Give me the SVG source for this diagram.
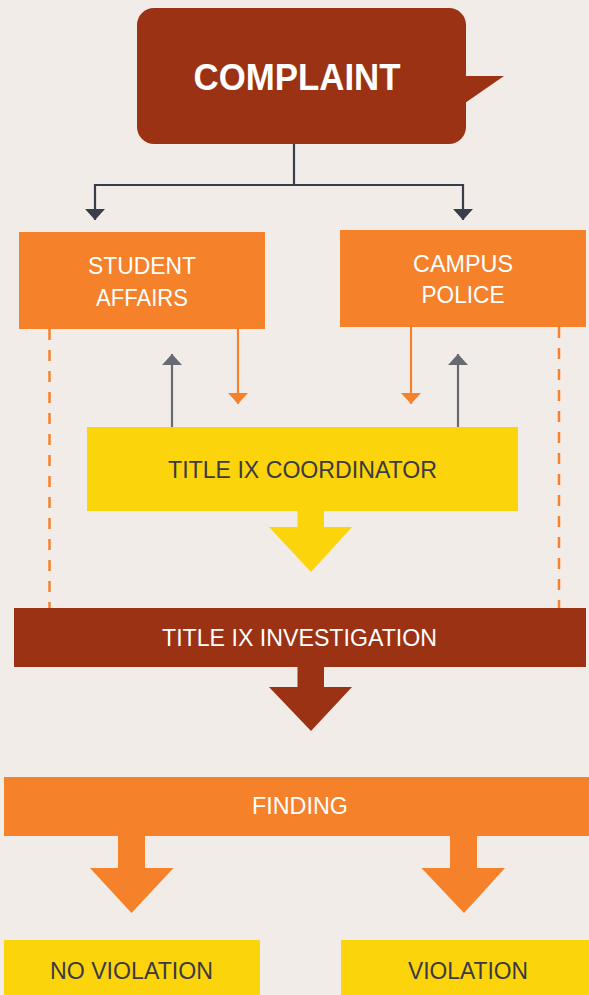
<svg xmlns="http://www.w3.org/2000/svg" width="589" height="995" viewBox="0 0 589 995">
<defs>
<style>
.t{font-family:"Liberation Sans",Arial,sans-serif;font-size:24px;text-anchor:middle}
.w{fill:#ffffff}
.d{fill:#3a3a44}
.dash{stroke:#f5812a;stroke-width:2.5;stroke-dasharray:11 10;fill:none}
.dk{stroke:#3a3d4a;stroke-width:2.2;fill:none}
.gr{stroke:#686a72;stroke-width:2.2;fill:none}
.or{stroke:#f5812a;stroke-width:2.2;fill:none}
</style>
<marker id="mDark" viewBox="0 0 11 20" refX="11" refY="10" markerWidth="11" markerHeight="20" markerUnits="userSpaceOnUse" orient="auto">
<path d="M0,0 L11,10 L0,20 Z" fill="#3a3d4a"/>
</marker>
<marker id="mGrey" viewBox="0 0 11 20" refX="11" refY="10" markerWidth="11" markerHeight="20" markerUnits="userSpaceOnUse" orient="auto">
<path d="M0,0 L11,10 L0,20 Z" fill="#686a72"/>
</marker>
<marker id="mOr" viewBox="0 0 11 20" refX="11" refY="10" markerWidth="11" markerHeight="20" markerUnits="userSpaceOnUse" orient="auto">
<path d="M0,0 L11,10 L0,20 Z" fill="#f5812a"/>
</marker>
</defs>
<rect x="0" y="0" width="589" height="995" fill="#f2ece9"/>

<g id="connectors">
<path class="dk" d="M294,144 V185 M94,185 H464"/>
<path class="dk" d="M95,184 V220" marker-end="url(#mDark)"/>
<path class="dk" d="M463,184 V220" marker-end="url(#mDark)"/>
<path class="dash" d="M49.5,329 V608"/>
<path class="dash" d="M559,327 V608"/>
<path class="or" d="M238,329 V404" marker-end="url(#mOr)"/>
<path class="or" d="M411,327 V404" marker-end="url(#mOr)"/>
<path class="gr" d="M172,427 V354" marker-end="url(#mGrey)"/>
<path class="gr" d="M458,427 V354" marker-end="url(#mGrey)"/>
<path d="M297.5,510 H324 V527 H352 L311,572 L269,527 H297.5 Z" fill="#fcd40c"/>
<path d="M297.5,666 H324 V687 H352 L311,731 L269,687 H297.5 Z" fill="#9b3214"/>
<path d="M118,835 H145 V868 H173.5 L131.5,913 L90,868 H118 Z" fill="#f5812a"/>
<path d="M450,835 H477 V868 H505 L464,913 L421.5,868 H450 Z" fill="#f5812a"/>
</g>

<g id="complaint">
<rect x="137" y="8" width="329" height="136" rx="17" fill="#9b3214"/>
<path d="M465,76 L504,76 L465,103 Z" fill="#9b3214"/>
<text x="297" y="90" class="w" style="font-family:'Liberation Sans',Arial,sans-serif;font-size:37px;font-weight:bold;text-anchor:middle" textLength="207" lengthAdjust="spacingAndGlyphs">COMPLAINT</text>
</g>

<g id="student-affairs">
<rect x="19" y="232" width="246" height="97" fill="#f5812a"/>
<text x="142" y="274" class="t w" textLength="108" lengthAdjust="spacingAndGlyphs">STUDENT</text>
<text x="142" y="306" class="t w" textLength="92" lengthAdjust="spacingAndGlyphs">AFFAIRS</text>
</g>

<g id="campus-police">
<rect x="340" y="230" width="246" height="97" fill="#f5812a"/>
<text x="463" y="272" class="t w" textLength="100" lengthAdjust="spacingAndGlyphs">CAMPUS</text>
<text x="463" y="303" class="t w" textLength="83" lengthAdjust="spacingAndGlyphs">POLICE</text>
</g>

<g id="coordinator">
<rect x="87" y="427" width="431" height="84" fill="#fcd40c"/>
<text x="302.5" y="478" class="t d" textLength="269" lengthAdjust="spacingAndGlyphs">TITLE IX COORDINATOR</text>
</g>

<g id="investigation">
<rect x="14" y="608" width="572" height="59" fill="#9b3214"/>
<text x="299.5" y="646" class="t w" textLength="275" lengthAdjust="spacingAndGlyphs">TITLE IX INVESTIGATION</text>
</g>

<g id="finding">
<rect x="4" y="777" width="585" height="59" fill="#f5812a"/>
<text x="300" y="814" class="t w" textLength="96" lengthAdjust="spacingAndGlyphs">FINDING</text>
</g>

<g id="no-violation">
<rect x="4" y="940" width="256" height="55" fill="#fcd40c"/>
<text x="131.5" y="979" class="t d" textLength="163" lengthAdjust="spacingAndGlyphs">NO VIOLATION</text>
</g>

<g id="violation">
<rect x="341" y="940" width="248" height="55" fill="#fcd40c"/>
<text x="468" y="979" class="t d" textLength="120" lengthAdjust="spacingAndGlyphs">VIOLATION</text>
</g>
</svg>
